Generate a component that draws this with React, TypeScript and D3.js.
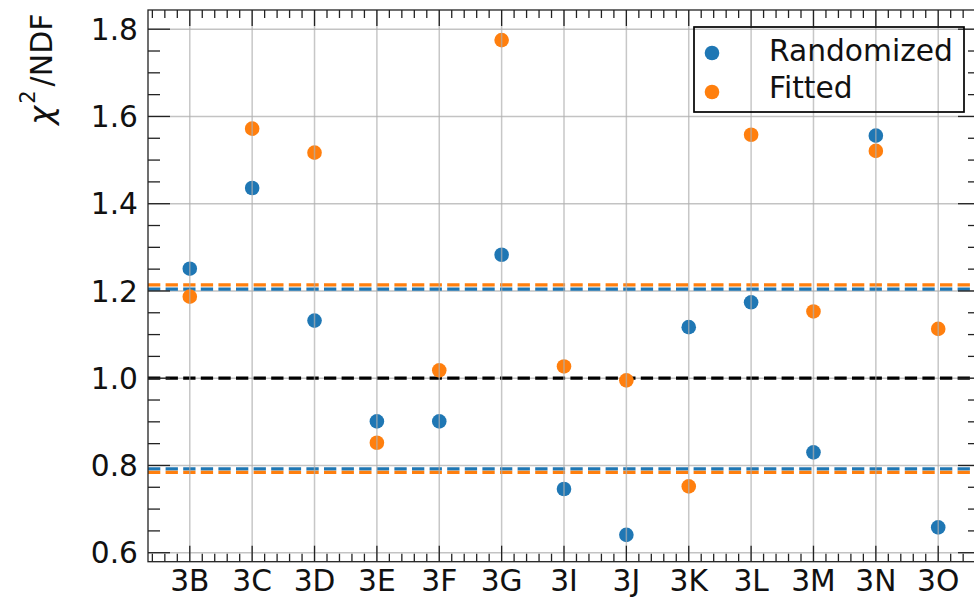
import React from 'react';
import * as d3 from 'd3';

// chi2/NDF per sample
const categories = ['3B', '3C', '3D', '3E', '3F', '3G', '3I', '3J', '3K', '3L', '3M', '3N', '3O'];
const randomized = [1.251, 1.436, 1.132, 0.901, 0.901, 1.283, 0.746, 0.641, 1.117, 1.174, 0.83, 1.556, 0.658];
const fitted = [1.187, 1.572, 1.517, 0.852, 1.018, 1.775, 1.027, 0.995, 0.752, 1.558, 1.153, 1.521, 1.113];
const randomizedBounds = [0.792, 1.204];
const fittedBounds = [0.784, 1.214];
const referenceLevel = [1.0];
const yTicks = [0.6, 0.8, 1.0, 1.2, 1.4, 1.6, 1.8];

const W = 974;
const H = 597;
const left = 148;
const right = 980;
const top = 10;
const bottom = 561.7;

const BLUE = '#1f77b4';
const ORANGE = '#ff7f0e';
const FONT = 'DejaVu Sans';
const DASH = '12.3 5.3';

const App = () => {
  const x = d3.scaleLinear().domain([-0.67, 12.67]).range([left, right]);
  const y = d3.scaleLinear().domain([0.5794, 1.844]).range([bottom, top]);

  const xMinor = d3.range(-3, 64)
    .filter(i => i % 5 !== 0)
    .map(i => i * 0.2)
    .filter(v => v > -0.67 && v < 12.67);
  const yMinor = d3.range(12, 37)
    .filter(i => i % 4 !== 0)
    .map(i => i * 0.05);

  const hline = (v: number, color: string, key: string) => (
    <line key={key} x1={left} x2={right} y1={y(v)} y2={y(v)}
      stroke={color} strokeWidth={3.33} strokeDasharray={DASH} />
  );

  return (
    <svg width={W} height={H} style={{ position: 'absolute', left: 0, top: 0 }}
      fontFamily={FONT}>
      <rect width={W} height={H} fill="#fff" />
      <defs>
        <clipPath id="plot">
          <rect x={left} y={top} width={right - left} height={bottom - top} />
        </clipPath>
      </defs>

      <g clipPath="url(#plot)">
        {yTicks.map(t => (
          <line key={'gy' + t} x1={left} x2={right} y1={y(t)} y2={y(t)}
            stroke="#b0b0b0" strokeWidth={1.5} opacity={0.75} />
        ))}

        {randomizedBounds.map((v, i) => hline(v, BLUE, 'rb' + i))}
        {fittedBounds.map((v, i) => hline(v, ORANGE, 'fb' + i))}
        {referenceLevel.map((v, i) => hline(v, '#000', 'ref' + i))}

        {randomized.map((v, i) => (
          <circle key={'r' + i} cx={x(i)} cy={y(v)} r={7.3} fill={BLUE} />
        ))}
        {fitted.map((v, i) => (
          <circle key={'f' + i} cx={x(i)} cy={y(v)} r={7.3} fill={ORANGE} />
        ))}

        {/* vertical grid sits above the markers, as in the original */}
        {categories.map((c, i) => (
          <line key={'gx' + c} x1={x(i)} x2={x(i)} y1={top} y2={bottom}
            stroke="#b0b0b0" strokeWidth={1.5} opacity={0.7} />
        ))}
      </g>

      {/* ticks, all pointing inward */}
      <g stroke="#222" strokeWidth={1.3}>
        {categories.map((c, i) => (
          <g key={'tx' + c}>
            <line x1={x(i)} x2={x(i)} y1={bottom} y2={bottom - 16} />
            <line x1={x(i)} x2={x(i)} y1={top} y2={top + 16} />
          </g>
        ))}
        {xMinor.map(v => (
          <g key={'mx' + v}>
            <line x1={x(v)} x2={x(v)} y1={bottom} y2={bottom - 8} />
            <line x1={x(v)} x2={x(v)} y1={top} y2={top + 8} />
          </g>
        ))}
        {yTicks.map(t => (
          <g key={'ty' + t}>
            <line x1={left} x2={left + 22} y1={y(t)} y2={y(t)} />
            <line x1={right} x2={right - 22} y1={y(t)} y2={y(t)} />
          </g>
        ))}
        {yMinor.map(v => (
          <g key={'my' + v}>
            <line x1={left} x2={left + 12} y1={y(v)} y2={y(v)} />
            <line x1={right} x2={right - 12} y1={y(v)} y2={y(v)} />
          </g>
        ))}
      </g>

      <rect x={left} y={top} width={right - left} height={bottom - top}
        fill="none" stroke="#222" strokeWidth={1.3} />

      {/* tick labels */}
      <g fontSize={29.7} fill="#111">
        {yTicks.map(t => (
          <text key={'ly' + t} x={left - 10} y={y(t)} dy="0.36em" textAnchor="end">
            {d3.format('.1f')(t)}
          </text>
        ))}
        {categories.map((c, i) => (
          <text key={'lx' + c} x={x(i)} y={591} textAnchor="middle">{c}</text>
        ))}
      </g>

      <text transform="translate(52,13.5) rotate(-90)" textAnchor="end" fontSize={30} fill="#111">
        <tspan fontStyle="italic" fontSize={32}>χ</tspan>
        <tspan fontSize={21} dx={2} dy={-17}>2</tspan>
        <tspan dx={4} dy={17}>/NDF</tspan>
      </text>

      {/* legend (no fill, grid shows through) */}
      <g>
        <rect x={694} y={27} width={270} height={85} fill="none" stroke="#000" strokeWidth={1.7} />
        <circle cx={712} cy={53} r={7.3} fill={BLUE} />
        <circle cx={712} cy={92} r={7.3} fill={ORANGE} />
        <text x={769} y={61} fontSize={29.7} fill="#111">Randomized</text>
        <text x={769} y={98.3} fontSize={29.7} fill="#111">Fitted</text>
      </g>
    </svg>
  );
};

export default App;
